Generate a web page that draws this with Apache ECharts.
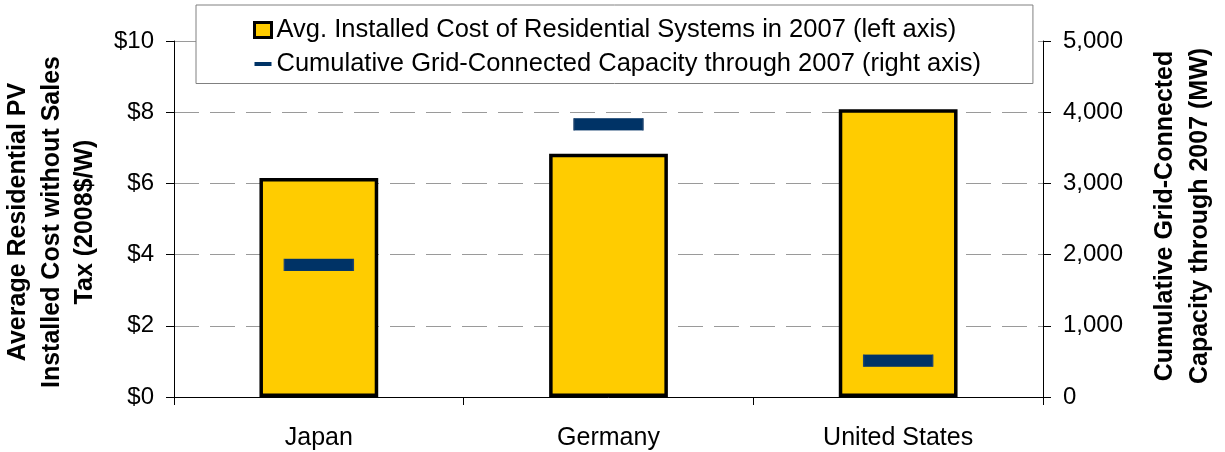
<!DOCTYPE html>
<html>
<head>
<meta charset="utf-8">
<script src="https://cdn.jsdelivr.net/npm/echarts@6/dist/echarts.min.js"></script>
<style>
  html, body { margin: 0; padding: 0; background: #fff; }
  #chart { width: 1225px; height: 452px; }
</style>
</head>
<body>
<div id="chart"></div>
<script>
const categories = ['Japan', 'Germany', 'United States'];
const costValues = [6.15, 6.83, 8.08];          // $/W, left axis
const capacityValues = [1855, 3830, 510];       // MW, right axis
const costSeriesName = 'Avg. Installed Cost of Residential Systems in 2007 (left axis)';
const capSeriesName = 'Cumulative Grid-Connected Capacity through 2007 (right axis)';
const leftTitle = 'Average Residential PV\nInstalled Cost without Sales\nTax (2008$/W)';
const rightTitle = 'Cumulative Grid-Connected\nCapacity through 2007 (MW)';

const FONT = '"Liberation Sans", Arial, sans-serif';
const chart = echarts.init(document.getElementById('chart'), null, { renderer: 'canvas' });

const option = {
  backgroundColor: '#ffffff',
  animation: false,
  textStyle: { fontFamily: FONT, color: '#000' },
  grid: { left: 174, right: 182, top: 41, bottom: 55, containLabel: false },
  legend: {
    orient: 'vertical',
    left: 196,
    top: 5,
    padding: [12, 52, 7, 57],
    itemGap: 7.5,
    itemWidth: 17,
    itemHeight: 15,
    backgroundColor: '#ffffff',
    borderColor: '#808080',
    borderWidth: 1,
    textStyle: { fontFamily: FONT, fontSize: 25.5, color: '#000' },
    selectedMode: false,
    data: [
      { name: costSeriesName, icon: 'rect',
        itemStyle: { color: '#FFCC00', borderColor: '#000', borderWidth: 3 } },
      { name: capSeriesName, icon: 'path://M0,0L0.01,0L0,0.01Z M0,6H17V10H0Z M17,15L16.99,15L17,14.99Z',
        itemStyle: { color: '#003366', borderWidth: 0 } }
    ]
  },
  graphic: [
    { type: 'text', x: 52, y: 222, rotation: Math.PI / 2, z: 100,
      style: { text: leftTitle, font: 'bold 25px ' + FONT, fill: '#000',
               align: 'center', verticalAlign: 'middle', textAlign: 'center', textVerticalAlign: 'middle', lineHeight: 33.5 } },
    { type: 'text', x: 1182.5, y: 216, rotation: Math.PI / 2, z: 100,
      style: { text: rightTitle, font: 'bold 25px ' + FONT, fill: '#000',
               align: 'center', verticalAlign: 'middle', textAlign: 'center', textVerticalAlign: 'middle', lineHeight: 35 } }
  ],
  xAxis: {
    type: 'category',
    data: categories,
    boundaryGap: true,
    axisLine: { lineStyle: { color: '#000', width: 1 } },
    axisTick: { show: true, interval: 0, length: 8, lineStyle: { color: '#000' } },
    axisLabel: { fontSize: 25, color: '#000', margin: 29, fontFamily: FONT },
    splitLine: { show: false }
  },
  yAxis: [
    {
      type: 'value', min: 0, max: 10, interval: 2, position: 'left',
      axisLine: { show: true, lineStyle: { color: '#000', width: 1 } },
      axisTick: { show: true, length: 8, lineStyle: { color: '#000' } },
      axisLabel: { fontSize: 24, color: '#000', margin: 20, fontFamily: FONT,
                   formatter: v => '$' + v },
      splitLine: { show: true, lineStyle: { color: '#9a9a9a', width: 1, type: [25, 11] } }
    },
    {
      type: 'value', min: 0, max: 5000, interval: 1000, position: 'right',
      axisLine: { show: true, lineStyle: { color: '#000', width: 1 } },
      axisTick: { show: true, length: 8, lineStyle: { color: '#000' } },
      axisLabel: { fontSize: 24, color: '#000', margin: 20, fontFamily: FONT,
                   formatter: v => v.toLocaleString('en-US') },
      splitLine: { show: false }
    }
  ],
  series: [
    {
      name: costSeriesName,
      type: 'bar',
      yAxisIndex: 0,
      data: costValues,
      barWidth: '41%',
      itemStyle: { color: '#FFCC00', borderColor: '#000', borderWidth: 3.5 },
      z: 2
    },
    {
      name: capSeriesName,
      type: 'scatter',
      yAxisIndex: 1,
      data: capacityValues,
      symbol: 'rect',
      symbolSize: [69, 12],
      itemStyle: { color: '#003366', borderColor: '#1f4570', borderWidth: 0.6, opacity: 1 },
      z: 3
    }
  ]
};
chart.setOption(option);
</script>
</body>
</html>
